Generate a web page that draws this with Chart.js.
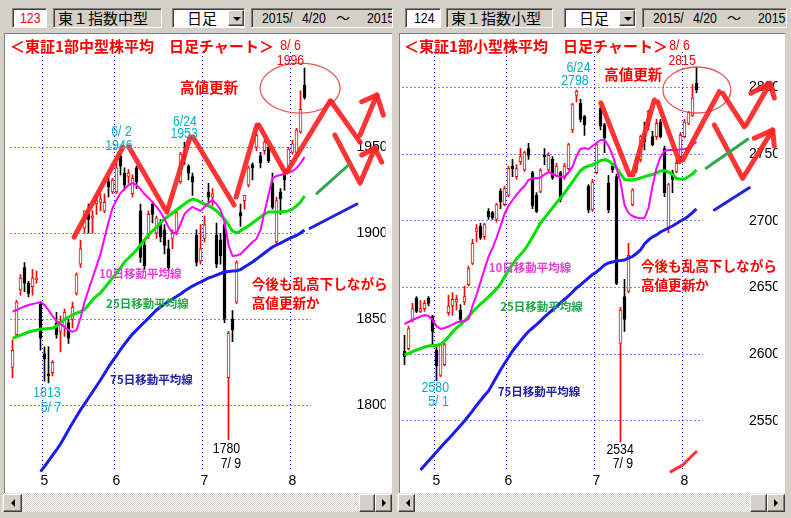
<!DOCTYPE html>
<html><head><meta charset="utf-8">
<script src="https://cdn.jsdelivr.net/npm/chart.js@4.4.0/dist/chart.umd.min.js"></script>
<style>
html,body{margin:0;padding:0;}
body{width:791px;height:518px;background:#d4d0c8;position:relative;overflow:hidden;font-family:"Noto Sans CJK JP",sans-serif;}
.abs{position:absolute;box-sizing:border-box;}
.sunk{border:1px solid;border-color:#808080 #fff #fff #808080;box-shadow:inset 1px 1px 0 #404040;}
.raised{background:#d4d0c8;border:1px solid;border-color:#fff #404040 #404040 #fff;box-shadow:inset -1px -1px 0 #808080;}
.num{background:#fff;}
.name{background:#d4d0c8;padding-left:4px;font-size:15px;line-height:17px;white-space:nowrap;}
.dd{background:#fff;}
.ddt{position:absolute;top:0;font-size:15px;line-height:17px;}
.date{background:#d4d0c8;white-space:pre;overflow:hidden;}
.nar{position:absolute;top:0;font:15px "Liberation Sans",sans-serif;line-height:18px;transform:scaleX(0.82);transform-origin:0 0;white-space:pre;}
.wave{position:absolute;top:0;font:14px "Noto Sans CJK JP",sans-serif;line-height:17px;}
.tri-d{position:absolute;width:0;height:0;border-left:4px solid transparent;border-right:4px solid transparent;border-top:4px solid #000;left:4px;top:6px;}
.tri-l{position:absolute;width:0;height:0;border-top:4px solid transparent;border-bottom:4px solid transparent;border-right:4px solid #000;left:7px;top:4px;}
.tri-r{position:absolute;width:0;height:0;border-top:4px solid transparent;border-bottom:4px solid transparent;border-left:4px solid #000;left:6px;top:4px;}
.track{background-color:#fff;background-image:repeating-conic-gradient(#d4d0c8 0 25%,#fff 0 50%);background-size:2px 2px;}
.white{background:#fff;border-top:1px solid #808080;border-left:1px solid #808080;}
canvas{position:absolute;top:34px;}
</style></head>
<body>
<!-- left toolbar -->
<div class="abs sunk num" style="left:12px;top:8px;width:35px;height:20px;"><span class="nar" style="left:7px;color:#f00">123</span></div>
<div class="abs sunk name" style="left:53px;top:8px;width:109px;height:20px;">東１指数中型</div>
<div class="abs sunk dd" style="left:172px;top:8px;width:73px;height:20px;"><span class="ddt" style="left:14px;">日足</span><div class="abs raised" style="left:55px;top:1px;width:16px;height:16px;"><span class="tri-d"></span></div></div>
<div class="abs sunk date" style="left:251px;top:8px;width:142px;height:20px;"><span class="nar" style="left:10px">2015/</span><span class="nar" style="left:50px">4/20</span><span class="wave" style="left:84px">～</span><span class="nar" style="left:115px">2015</span></div>
<!-- right toolbar -->
<div class="abs sunk num" style="left:405px;top:8px;width:36px;height:20px;"><span class="nar" style="left:8px;color:#000">124</span></div>
<div class="abs sunk name" style="left:446px;top:8px;width:107px;height:20px;">東１指数小型</div>
<div class="abs sunk dd" style="left:564px;top:8px;width:72px;height:20px;"><span class="ddt" style="left:14px;">日足</span><div class="abs raised" style="left:54px;top:1px;width:16px;height:16px;"><span class="tri-d"></span></div></div>
<div class="abs sunk date" style="left:642px;top:8px;width:145px;height:20px;"><span class="nar" style="left:10px">2015/</span><span class="nar" style="left:50px">4/20</span><span class="wave" style="left:84px">～</span><span class="nar" style="left:115px">2015</span></div>
<!-- white chart areas -->
<div class="abs white" style="left:4px;top:33px;width:388px;height:460px;"></div>
<div class="abs white" style="left:399px;top:33px;width:386px;height:460px;"></div>
<!-- scrollbars -->
<div class="abs track" style="left:2px;top:493px;width:390px;height:19px;"></div>
<div class="abs raised" style="left:3px;top:494px;width:19px;height:18px;"><span class="tri-l"></span></div>
<div class="abs raised" style="left:359px;top:494px;width:16px;height:18px;"></div>
<div class="abs raised" style="left:375px;top:494px;width:17px;height:18px;"><span class="tri-r"></span></div>
<div class="abs track" style="left:397px;top:493px;width:388px;height:19px;"></div>
<div class="abs raised" style="left:398px;top:494px;width:17px;height:18px;"><span class="tri-l"></span></div>
<div class="abs raised" style="left:750px;top:494px;width:17px;height:18px;"></div>
<div class="abs raised" style="left:767px;top:494px;width:18px;height:18px;"><span class="tri-r"></span></div>

<canvas id="c1" width="391" height="457" style="left:0px;"></canvas>
<canvas id="c2" width="391" height="457" style="left:396px;"></canvas>

<script>
// ---------------- DATA ----------------
const categories = ['4/20','4/21','4/22','4/23','4/24','4/27','4/28','4/30','5/1','5/7','5/8','5/11','5/12','5/13','5/14','5/15','5/18','5/19','5/20','5/21','5/22','5/25','5/26','5/27','5/28','5/29','6/1','6/2','6/3','6/4','6/5','6/8','6/9','6/10','6/11','6/12','6/15','6/16','6/17','6/18','6/19','6/22','6/23','6/24','6/25','6/26','6/29','6/30','7/1','7/2','7/3','7/6','7/7','7/8','7/9','7/10','7/13','7/14','7/15','7/16','7/17','7/21','7/22','7/23','7/24','7/27','7/28','7/29','7/30','7/31','8/3','8/4','8/5','8/6'];
const monthStarts = ['5/1','6/1','7/1','8/3'];
const monthLabels = ['5','6','7','8'];

// 東証1部 中型株指数
const midOpen  = [1822,1841,1867,1880,1871,1869,1873,1859,1830,1818,1819,1848,1843,1846,1848,1850,1865,1882,1903,1911,1909,1917,1918,1913,1930,1924,1924,1945,1935,1933,1923,1938,1913,1893,1899,1917,1900,1906,1902,1891,1897,1900,1930,1946,1939,1933,1899,1884,1897,1924,1921,1899,1896,1905,1816,1850,1860,1912,1919,1928,1940,1950,1945,1948,1950,1929,1895,1924,1934,1936,1947,1947,1959,1986];
const midHigh  = [1838,1861,1876,1883,1872,1879,1878,1860,1834,1834,1826,1854,1852,1856,1850,1860,1877,1896,1913,1917,1913,1922,1923,1923,1933,1932,1941,1946,1938,1937,1934,1939,1917,1896,1913,1918,1910,1908,1905,1896,1902,1913,1947,1953,1940,1935,1902,1905,1910,1929,1926,1906,1900,1906,1843,1855,1884,1917,1922,1939,1941,1958,1947,1954,1951,1935,1921,1926,1937,1950,1954,1961,1983,1996];
const midLow   = [1816,1840,1864,1866,1863,1864,1871,1832,1814,1813,1817,1839,1831,1840,1836,1845,1864,1880,1900,1900,1900,1911,1913,1912,1921,1923,1923,1934,1925,1929,1921,1926,1883,1879,1897,1906,1897,1895,1888,1878,1891,1899,1929,1940,1931,1922,1881,1882,1895,1917,1916,1880,1882,1848,1780,1837,1859,1904,1914,1927,1931,1948,1938,1946,1941,1914,1894,1911,1925,1935,1946,1946,1958,1978];
const midClose = [1832,1860,1874,1871,1865,1874,1874,1839,1827,1817,1825,1841,1849,1854,1839,1857,1876,1891,1913,1908,1910,1919,1920,1918,1927,1931,1938,1939,1928,1935,1932,1930,1886,1881,1911,1911,1909,1898,1893,1880,1900,1912,1946,1943,1935,1930,1883,1891,1905,1921,1923,1882,1887,1850,1842,1844,1883,1910,1922,1938,1938,1957,1941,1953,1942,1915,1919,1920,1931,1949,1952,1960,1972,1979];
const midMA10  = [1854.4,1855.4,1856.5,1857.4,1858.3,1858.9,1859.4,1860.0,1858.3,1855.4,1851.9,1849.0,1847.2,1845.5,1843.7,1842.8,1843.7,1850.7,1860.0,1867.0,1874.0,1880.9,1887.9,1897.2,1906.5,1914.7,1919.3,1923.4,1925.7,1928.0,1929.2,1928.0,1925.7,1922.8,1920.5,1918.2,1915.3,1912.4,1908.3,1903.6,1900.1,1900.1,1905.4,1911.2,1913.5,1915.3,1914.1,1913.0,1915.3,1917.6,1919.3,1917.0,1913.5,1906.5,1893.2,1886.8,1887.1,1887.9,1890.3,1892.6,1894.9,1896.7,1901.9,1912.4,1922.2,1932.1,1933.3,1933.9,1934.7,1935.3,1936.2,1937.9,1940.8,1944.3];
const midMA25  = [1838.9,1839.9,1840.8,1841.7,1842.6,1843.2,1843.7,1844.3,1844.3,1844.6,1844.7,1846.1,1848.1,1849.9,1851.3,1852.5,1853.6,1854.5,1855.7,1858.3,1861.2,1863.5,1865.3,1868.2,1871.1,1874.0,1876.9,1879.8,1883.3,1885.6,1887.9,1890.3,1893.2,1896.1,1899.0,1901.3,1903.6,1906.0,1908.3,1910.0,1911.8,1913.5,1915.3,1917.0,1918.8,1919.9,1919.3,1918.2,1917.0,1915.9,1914.7,1913.0,1910.6,1908.3,1904.8,1901.3,1900.2,1901.3,1903.0,1904.2,1906.0,1907.7,1909.5,1911.2,1912.4,1912.4,1912.4,1912.4,1912.6,1913.0,1914.1,1915.9,1918.2,1921.7];
const midMA75  = [null,null,null,null,null,null,null,1761.4,1764.4,1767.6,1770.8,1774.0,1777.5,1781.6,1785.6,1789.7,1793.5,1797.3,1800.7,1804.2,1807.7,1811.2,1814.7,1818.5,1822.2,1825.7,1828.9,1832.4,1835.6,1838.5,1841.4,1843.7,1846.1,1848.4,1850.7,1853.1,1855.4,1857.1,1858.9,1860.3,1861.8,1863.2,1864.7,1866.4,1867.9,1869.3,1870.5,1871.6,1872.8,1874.0,1874.8,1875.7,1876.6,1877.5,1877.8,1878.0,1878.2,1878.9,1880.4,1881.8,1883.3,1885.0,1886.8,1888.5,1890.3,1892.0,1893.2,1894.3,1895.5,1896.7,1897.8,1898.7,1900.2,1901.9];
const midTicks = [1800,1850,1900,1950];

// 東証1部 小型株指数
const smallOpen  = [2602,2604,2626,2642,2632,2634,2642,2628,2603,2584,2592,2631,2636,2639,2633,2639,2652,2668,2692,2696,2688,2707,2706,2701,2722,2712,2719,2741,2733,2744,2738,2754,2736,2719,2722,2749,2738,2746,2734,2736,2732,2739,2768,2794,2788,2778,2726,2708,2736,2784,2772,2728,2741,2733,2608,2643,2647,2712,2738,2746,2764,2771,2763,2763,2774,2754,2694,2736,2737,2748,2763,2773,2779,2803];
const smallHigh  = [2614,2621,2638,2643,2640,2640,2643,2629,2606,2608,2608,2644,2646,2644,2637,2651,2666,2686,2697,2698,2698,2709,2707,2713,2724,2726,2741,2746,2742,2754,2752,2758,2737,2721,2739,2754,2751,2748,2743,2737,2743,2758,2788,2798,2791,2779,2727,2731,2758,2786,2773,2734,2743,2735,2635,2656,2683,2724,2748,2764,2774,2783,2767,2776,2776,2756,2728,2738,2746,2766,2776,2782,2802,2815];
const smallLow   = [2592,2603,2624,2631,2631,2632,2636,2606,2580,2583,2591,2629,2629,2633,2624,2637,2651,2667,2684,2686,2686,2701,2701,2699,2709,2711,2718,2733,2731,2742,2737,2746,2709,2706,2721,2742,2737,2731,2733,2714,2731,2738,2766,2789,2774,2764,2706,2707,2735,2768,2751,2706,2736,2652,2534,2617,2646,2711,2736,2744,2753,2768,2756,2761,2762,2718,2691,2721,2736,2747,2762,2772,2778,2796];
const smallClose = [2598,2619,2634,2632,2634,2638,2638,2617,2591,2607,2607,2636,2641,2641,2626,2643,2664,2683,2694,2687,2697,2703,2702,2712,2714,2724,2739,2739,2739,2748,2751,2749,2711,2707,2738,2748,2749,2732,2741,2716,2741,2757,2787,2797,2776,2772,2708,2729,2757,2771,2762,2708,2738,2653,2633,2626,2674,2723,2746,2763,2759,2782,2757,2773,2763,2721,2727,2731,2743,2764,2774,2781,2792,2798];
const smallMA10  = [2622.5,2624.0,2625.5,2626.8,2628.1,2629.3,2628.5,2625.5,2621.0,2618.8,2619.5,2620.6,2622.1,2623.6,2624.4,2624.8,2626.3,2636.0,2644.3,2654.0,2663.8,2672.8,2679.5,2687.0,2696.0,2705.0,2711.0,2715.5,2719.3,2723.0,2726.0,2730.5,2731.8,2731.8,2732.4,2734.6,2736.5,2735.0,2733.5,2733.0,2733.0,2736.1,2740.5,2748.5,2753.8,2754.5,2753.8,2756.0,2758.3,2760.5,2760.5,2756.0,2749.3,2739.5,2729.0,2711.8,2705.8,2703.5,2702.4,2701.8,2702.0,2709.5,2726.0,2739.5,2747.8,2752.3,2753.0,2753.0,2753.0,2753.4,2753.8,2754.5,2756.8,2759.2];
const smallMA25  = [2599.3,2600.5,2601.7,2603.0,2604.1,2605.3,2606.0,2606.4,2606.6,2607.1,2609.8,2612.8,2616.5,2619.5,2621.8,2624.8,2627.8,2631.5,2634.5,2637.5,2640.1,2642.8,2645.8,2648.8,2652.5,2657.8,2663.0,2667.1,2671.3,2674.6,2678.0,2682.5,2687.8,2693.0,2698.3,2702.0,2705.8,2709.5,2713.3,2717.0,2720.8,2724.9,2729.0,2733.5,2737.6,2739.9,2741.0,2741.8,2743.3,2745.1,2745.9,2744.8,2742.5,2739.5,2735.0,2730.9,2730.5,2730.5,2731.3,2732.0,2733.0,2733.9,2734.6,2735.8,2737.3,2737.6,2736.5,2734.6,2731.6,2731.3,2731.3,2733.1,2735.0,2738.0];
const smallMA75  = [null,null,null,null,2513.0,2516.4,2519.8,2523.1,2526.5,2529.9,2533.3,2536.3,2539.6,2543.0,2546.4,2549.8,2553.5,2557.3,2561.4,2565.1,2568.9,2572.3,2577.5,2582.8,2588.0,2592.9,2597.4,2602.3,2606.0,2609.8,2613.5,2616.9,2619.5,2622.1,2624.8,2627.8,2630.4,2633.0,2635.6,2638.3,2640.9,2643.5,2646.5,2649.5,2651.8,2654.4,2657.0,2659.6,2661.5,2664.1,2666.8,2668.3,2669.0,2669.8,2670.1,2670.5,2672.0,2673.1,2675.4,2678.0,2682.5,2685.5,2687.8,2689.3,2691.5,2693.0,2694.5,2696.0,2697.9,2699.8,2701.3,2703.5,2706.1,2708.8];
const smallTicks = [2550,2600,2650,2700,2750,2800];

// ---------------- STYLE ----------------
const NUMF = '"Liberation Sans",sans-serif';
const JPF = '"Noto Sans CJK JP",sans-serif';
const RED = '#ff0000', ZRED = 'rgba(255,35,35,0.92)', CYAN = '#00b0c4';
const NF = '15px "Liberation Sans",sans-serif';

// annotations in data space: [category index, value]
const midNotes = {
  strokes: [
    {c:ZRED,w:5,p:[[15.4,1897.8],[27.6,1950.1]]},
    {c:ZRED,w:5,p:[[29.1,1950.1],[38.1,1914.1]]},
    {c:ZRED,w:5,p:[[38.6,1912.3],[44.4,1956.0]]},
    {c:ZRED,w:5,p:[[45.1,1956.0],[55.4,1916.4]]},
    {c:ZRED,w:5,p:[[55.9,1921.1],[61.1,1962.9]]},
    {c:ZRED,w:5,p:[[61.6,1962.9],[68.1,1935.6]]},
    {c:ZRED,w:5,p:[[68.6,1935.6],[79.4,1976.9]]},
    {c:ZRED,w:5,p:[[79.6,1976.9],[86.9,1953.0]]},
    {c:ZRED,w:5,p:[[86.9,1957.1],[91.1,1980.4]]},
    {c:ZRED,w:5,p:[[87.3,1976.5],[91.1,1980.4],[92.7,1968.7]]},
    {c:ZRED,w:5,p:[[80.6,1957.1],[86.9,1929.2],[90.6,1949.6]]},
    {c:ZRED,w:5,p:[[87.3,1945.5],[90.6,1949.6],[92.3,1941.4]]},
    {c:'#2ea84a',w:3,p:[[76.1,1923.2],[84.0,1939.7]]},
    {c:'#2222d8',w:3,p:[[74.4,1902.9],[86.1,1917.0]]}
  ],
  ellipses: [{i:71.9,v:1984.4,ri:10,rv:14.5,c:'rgba(225,60,60,0.85)'}],
  texts: [
    {t:'＜東証1部中型株平均　日足チャート＞',i:-0.6,v:2008.6,f:'bold 15px '+JPF,c:RED,a:'left'},
    {t:'8/ 6',i:69.5,v:2008.9,f:NF,n:1,c:RED,a:'center'},
    {t:'1996',i:69.5,v:2000.2,f:NF,n:1,c:RED,a:'center'},
    {t:'高値更新',i:41.9,v:1985.0,f:'bold 14.5px '+JPF,c:RED,a:'left'},
    {t:'6/ 2',i:27.25,v:1959.1,f:NF,n:1,c:CYAN,a:'center'},
    {t:'1946',i:26.6,v:1950.7,f:NF,n:1,c:CYAN,a:'center'},
    {t:'6/24',i:43.1,v:1964.8,f:NF,n:1,c:CYAN,a:'center'},
    {t:'1953',i:42.9,v:1957.7,f:NF,n:1,c:CYAN,a:'center'},
    {t:'1813',i:8.6,v:1807.4,f:NF,n:1,c:CYAN,a:'center'},
    {t:'5/ 7',i:9.6,v:1798.7,f:NF,n:1,c:CYAN,a:'center'},
    {t:'1780',i:53.5,v:1774.6,f:NF,n:1,c:'#000',a:'center'},
    {t:'7/ 9',i:54.6,v:1766.0,f:NF,n:1,c:'#000',a:'center'},
    {t:'10日移動平均線',i:21.6,v:1876.3,f:'bold 11.5px '+JPF,c:'#f03cdc',a:'left'},
    {t:'25日移動平均線',i:23.4,v:1858.9,f:'bold 11.5px '+JPF,c:'#22a848',a:'left'},
    {t:'75日移動平均線',i:24.4,v:1814.7,f:'bold 11.5px '+JPF,c:'#2020a8',a:'left'},
    {t:'今後も乱高下しながら',i:59.8,v:1870.5,f:'bold 13.6px '+JPF,c:RED,a:'left'},
    {t:'高値更新か',i:59.8,v:1859.3,f:'bold 13.6px '+JPF,c:RED,a:'left'}
  ]
};
const smallNotes = {
  strokes: [
    {c:ZRED,w:5,p:[[49.1,2788.3],[56.2,2734.3]]},
    {c:ZRED,w:5,p:[[57.05,2734.3],[62.45,2790.5]]},
    {c:ZRED,w:5,p:[[63.3,2789.2],[68.7,2744.2]]},
    {c:ZRED,w:5,p:[[69.55,2745.5],[78.7,2796.7]]},
    {c:ZRED,w:5,p:[[79.55,2795.5],[84.95,2770.5]]},
    {c:ZRED,w:5,p:[[85.4,2771.8],[91.4,2803.0]]},
    {c:ZRED,w:5,p:[[86.6,2795.5],[91.4,2803.0],[92.45,2792.0]]},
    {c:ZRED,w:5,p:[[77.45,2771.8],[84.55,2731.8],[92.05,2768.0]]},
    {c:ZRED,w:5,p:[[87.45,2761.8],[92.05,2768.0],[92.45,2756.0]]},
    {c:'#2ea84a',w:3,p:[[75.4,2739.3],[85.8,2761.0]]},
    {c:'#2222d8',w:3,p:[[77.45,2708.0],[86.2,2724.7]]},
    {c:ZRED,w:3,p:[[66.6,2511.8],[69.6,2516.8],[72.9,2526.7]]}
  ],
  ellipses: [{i:73.1,v:2798.0,ri:8.5,rv:17.25,c:'rgba(225,60,60,0.85)'}],
  texts: [
    {t:'＜東証1部小型株平均　日足チャート＞',i:-0.1,v:2830.6,f:'bold 15px '+JPF,c:RED,a:'left'},
    {t:'8/ 6',i:68.75,v:2831.0,f:NF,n:1,c:RED,a:'center'},
    {t:'2815',i:69.4,v:2819.8,f:NF,n:1,c:RED,a:'center'},
    {t:'高値更新',i:49.95,v:2810.0,f:'bold 14.5px '+JPF,c:RED,a:'left'},
    {t:'6/24',i:43.5,v:2814.7,f:NF,n:1,c:CYAN,a:'center'},
    {t:'2798',i:42.6,v:2804.5,f:NF,n:1,c:CYAN,a:'center'},
    {t:'2580',i:7.7,v:2574.3,f:NF,n:1,c:CYAN,a:'center'},
    {t:'5/ 1',i:8.5,v:2563.8,f:NF,n:1,c:CYAN,a:'center'},
    {t:'2534',i:53.9,v:2528.0,f:NF,n:1,c:'#000',a:'center'},
    {t:'7/ 9',i:54.6,v:2517.5,f:NF,n:1,c:'#000',a:'center'},
    {t:'10日移動平均線',i:21.05,v:2664.5,f:'bold 11.5px '+JPF,c:'#f03cdc',a:'left'},
    {t:'25日移動平均線',i:23.95,v:2635.5,f:'bold 11.5px '+JPF,c:'#22a848',a:'left'},
    {t:'75日移動平均線',i:23.3,v:2571.8,f:'bold 11.5px '+JPF,c:'#2020a8',a:'left'},
    {t:'今後も乱高下しながら',i:59.1,v:2666.0,f:'bold 13.6px '+JPF,c:RED,a:'left'},
    {t:'高値更新か',i:59.1,v:2651.8,f:'bold 13.6px '+JPF,c:RED,a:'left'}
  ]
};

function notesPlugin(notes){
  return {
    id:'notes',
    afterDatasetsDraw(chart){
      const ctx = chart.ctx, xs = chart.scales.x, ys = chart.scales.y;
      const P = (i,v) => [xs.getPixelForValue(i), ys.getPixelForValue(v)];
      ctx.save();
      for (const e of notes.ellipses){
        const [cx,cy] = P(e.i,e.v);
        const rx = Math.abs(xs.getPixelForValue(e.i+e.ri)-cx), ry = Math.abs(ys.getPixelForValue(e.v+e.rv)-cy);
        ctx.beginPath(); ctx.ellipse(cx,cy,rx,ry,0,0,Math.PI*2);
        ctx.strokeStyle = e.c; ctx.lineWidth = 1.3; ctx.stroke();
      }
      for (const s of notes.strokes){
        ctx.beginPath();
        s.p.forEach((q,k)=>{const [x,y]=P(q[0],q[1]); k?ctx.lineTo(x,y):ctx.moveTo(x,y);});
        ctx.strokeStyle = s.c; ctx.lineWidth = s.w; ctx.lineCap='round'; ctx.lineJoin='round'; ctx.stroke();
      }
      ctx.textBaseline = 'middle';
      for (const t of notes.texts){
        const [x,y] = P(t.i,t.v);
        ctx.font = t.f; ctx.fillStyle = t.c; ctx.textAlign = t.a;
        if (t.n){ ctx.save(); ctx.translate(x,y); ctx.scale(0.82,1); ctx.fillText(t.t,0,0); ctx.restore(); }
        else ctx.fillText(t.t,x,y);
      }
      ctx.restore();
    }
  };
}

function build(id, o, h, l, c, ma10, ma25, ma75, ticks, yMin, yMax, pad, tickPad, notes){
  const labels = categories.concat(['']);
  const up = o.map((v,i)=> c[i] >= v);
  const wick = l.map((v,i)=>[v, h[i]]);
  const body = o.map((v,i)=>[Math.min(v,c[i]), Math.max(v,c[i])]);
  return new Chart(document.getElementById(id), {
    type:'bar',
    data:{labels, datasets:[
      {type:'line', data:ma10, borderColor:'#ff00ff', borderWidth:2, pointRadius:0, tension:0, order:0},
      {type:'line', data:ma25, borderColor:'#00e000', borderWidth:3, pointRadius:0, tension:0, order:1},
      {type:'line', data:ma75, borderColor:'#1c1cf0', borderWidth:3, pointRadius:0, tension:0, order:2},
      {data:body, backgroundColor:up.map(u=>u?'#ffffff':'#000000'), borderColor:up.map(u=>u?RED:'#000000'),
       borderWidth:1, borderSkipped:false, barThickness:3, grouped:false, minBarLength:1, order:3},
      {data:wick, backgroundColor:up.map(u=>u?RED:'#000000'), borderWidth:0, barThickness:1, grouped:false, order:4}
    ]},
    options:{
      responsive:false, animation:false, devicePixelRatio:1,
      layout:{padding:pad},
      plugins:{legend:{display:false}, tooltip:{enabled:false}},
      scales:{
        x:{type:'category', offset:true,
           grid:{offset:true, drawTicks:false, lineWidth:1,
                 color:ctx => monthStarts.includes(labels[ctx.index]) ? '#0000ff' : 'rgba(0,0,0,0)'},
           border:{display:false, dash:[1,3]},
           ticks:{autoSkip:false, maxRotation:0, minRotation:0, padding:1, color:'#000',
                  font:{family:NUMF, size:14},
                  callback:(v,i)=>{const k = monthStarts.indexOf(labels[i]); return k>=0 ? monthLabels[k] : '';}},
           afterFit:s=>{s.height = 19; s.paddingLeft = 0; s.paddingRight = 0;}},
        y:{position:'right', min:yMin, max:yMax,
           afterBuildTicks:s=>{s.ticks = ticks.map(v=>({value:v}));},
           grid:{drawTicks:false, color:'#0000ff', lineWidth:1},
           border:{display:false, dash:[1,3]},
           ticks:{crossAlign:'near', padding:tickPad, color:'#000', font:{family:NUMF, size:14}, callback:v=>String(v)},
           afterFit:s=>{s.width = 75; s.paddingTop = 0; s.paddingBottom = 0;}}
      }
    },
    plugins:[notesPlugin(notes)]
  });
}

build('c1', midOpen, midHigh, midLow, midClose, midMA10, midMA25, midMA75, midTicks,
      1761.2, 2005.4, {left:10.5, right:5.5, top:18, bottom:0}, 46, midNotes);
build('c2', smallOpen, smallHigh, smallLow, smallClose, smallMA10, smallMA25, smallMA75, smallTicks,
      2511.5, 2826.5, {left:6.5, right:9.5, top:18, bottom:0}, 46.5, smallNotes);
</script>
</body></html>
